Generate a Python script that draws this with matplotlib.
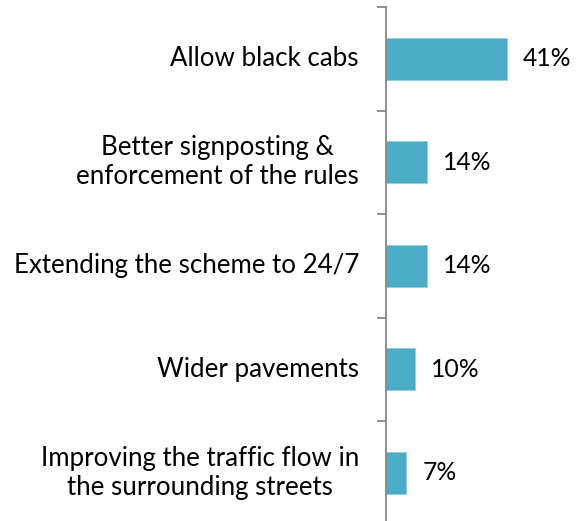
import numpy as np
import matplotlib.pyplot as plt
import matplotlib.transforms as mtransforms

# Suggested improvements and share of respondents (%)
categories = [
    'Allow black cabs',
    'Better signposting &\nenforcement of the rules',
    'Extending the scheme to 24/7',
    'Wider pavements',
    'Improving the traffic flow in\nthe surrounding streets',
]
values = [41, 14, 14, 10, 7]
value_labels = ['41%', '14%', '14%', '10%', '7%']

bar_color = '#4BACC6'
axis_color = '#868686'

plt.rcParams['font.family'] = ['Lato', 'DejaVu Sans']

fig = plt.figure(figsize=(5.88, 5.21), dpi=100)
ax = fig.add_axes([385.7 / 588, -3.5 / 521, 177 / 588, 517.5 / 521])

y = np.arange(len(categories))
ax.barh(y, values, height=0.41, color=bar_color, edgecolor='#8FD0E0', linewidth=0.6)

ax.set_xlim(0, 60)
ax.set_ylim(len(categories) - 0.5, -0.5)

# only the left axis line, with ticks between categories
for side in ['top', 'right', 'bottom']:
    ax.spines[side].set_visible(False)
ax.spines['left'].set_color(axis_color)
ax.spines['left'].set_linewidth(1.3)
ax.set_xticks([])
ax.set_yticks(np.arange(-0.5, len(categories), 1.0))
ax.set_yticklabels([])
ax.tick_params(axis='y', direction='out', length=6.5, width=1.3, color=axis_color)

# category labels, right aligned next to the axis
trans = mtransforms.blended_transform_factory(ax.transAxes, ax.transData)
for yi, cat in zip(y, categories):
    ax.text(-26.7 / 177, yi, cat, transform=trans, ha='right', va='center',
            multialignment='center', fontsize=18.6, color='#000000',
            linespacing=1.22)

# value labels at the bar ends
for yi, v, lab in zip(y, values, value_labels):
    ax.annotate(lab, xy=(v, yi), xytext=(11.5, 0), textcoords='offset points',
                ha='left', va='center', fontsize=17.8, color='#000000')

fig.savefig('out.png', dpi=100)
